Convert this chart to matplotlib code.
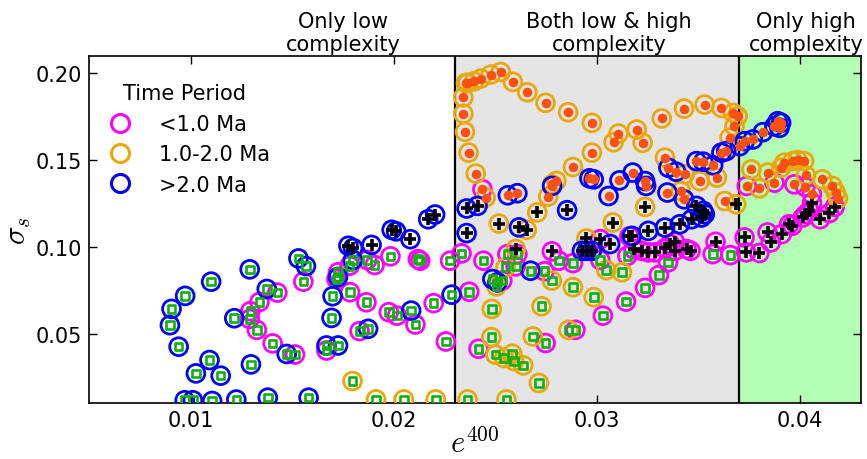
import matplotlib
matplotlib.use("Agg")
import matplotlib.pyplot as plt
from matplotlib.lines import Line2D
import matplotlib.transforms as mtransforms

plt.rcParams['mathtext.fontset'] = 'cm'
plt.rcParams['font.family'] = 'DejaVu Sans'

# ---- data: (e400, sigma_s) per time period, split by complexity class ----
# L = only low complexity (green square), B = both (black plus), H = only high (red dot)
young_L_x = [0.01426, 0.01338, 0.01293, 0.0129, 0.01325, 0.01403, 0.01554, 0.01782, 0.01869, 0.01905,
             0.01983, 0.02118, 0.0213, 0.02277, 0.01725, 0.01717, 0.01784, 0.01865, 0.01975, 0.02015,
             0.02106, 0.02196, 0.02256, 0.01831, 0.01668, 0.01513, 0.02333, 0.02441, 0.02559, 0.02608,
             0.026, 0.02742, 0.02812, 0.02882, 0.02534, 0.02371, 0.02417, 0.02747, 0.02894, 0.03016,
             0.0315, 0.0335, 0.0357, 0.03657, 0.03305, 0.03237, 0.03143, 0.03029]
young_L_y = [0.0736, 0.0682, 0.0629, 0.0584, 0.0521, 0.0443, 0.0799, 0.0891, 0.0924, 0.0895,
             0.0945, 0.0929, 0.0920, 0.0920, 0.0853, 0.0814, 0.0738, 0.0680, 0.0623, 0.0603,
             0.0552, 0.0675, 0.0454, 0.0514, 0.0402, 0.0379, 0.0962, 0.0920, 0.0958, 0.0958,
             0.0887, 0.0859, 0.0920, 0.0906, 0.0805, 0.0741, 0.0412, 0.0445, 0.0521, 0.0924,
             0.0948, 0.0910, 0.0958, 0.0952, 0.0837, 0.0763, 0.0684, 0.0603]
young_B_x = [0.02778, 0.03016, 0.0316, 0.0318, 0.0322, 0.03253, 0.03286, 0.03335, 0.03384, 0.03441,
             0.03461, 0.0336, 0.03384, 0.03584, 0.04059, 0.04046, 0.04029, 0.04013, 0.04099, 0.04144,
             0.04171, 0.03946, 0.03962, 0.0391, 0.0384, 0.03856, 0.03727, 0.03735, 0.038]
young_B_y = [0.0974, 0.1044, 0.1060, 0.0987, 0.0977, 0.0968, 0.0968, 0.0991, 0.0977, 0.0987,
             0.0977, 0.1016, 0.1029, 0.1029, 0.1255, 0.1207, 0.1188, 0.1169, 0.1159, 0.1194,
             0.1230, 0.1130, 0.1121, 0.1073, 0.1083, 0.1025, 0.1054, 0.0968, 0.0964]
young_H_x = [0.02436, 0.03738, 0.03874, 0.03972, 0.04026, 0.04059]
young_H_y = [0.1332, 0.1351, 0.1370, 0.1360, 0.1345, 0.1303]

mid_L_x = [0.01796, 0.01912, 0.02049, 0.02206, 0.02363, 0.02554, 0.0255, 0.02505, 0.02778, 0.02882,
           0.02482, 0.02727, 0.02984, 0.0248, 0.02684, 0.0286, 0.025, 0.02542, 0.02583, 0.02592,
           0.02637, 0.02714, 0.03046, 0.03123]
mid_L_y = [0.0226, 0.0120, 0.0120, 0.0120, 0.0120, 0.0120, 0.0882, 0.0772, 0.0805, 0.0767,
           0.0642, 0.0657, 0.0709, 0.0479, 0.0483, 0.0521, 0.0378, 0.0359, 0.0383, 0.0341,
           0.0316, 0.0215, 0.0866, 0.0853]
mid_B_x = [0.02517, 0.02706, 0.02654, 0.026, 0.02948, 0.03237, 0.03078, 0.03686]
mid_B_y = [0.1134, 0.1198, 0.1098, 0.0987, 0.1048, 0.1230, 0.1140, 0.1245]
mid_H_x = [0.02355, 0.02363, 0.02395, 0.02428, 0.02477, 0.02526, 0.02586, 0.02657, 0.02747, 0.02858,
           0.02975, 0.02342, 0.02342, 0.0235, 0.02368, 0.02403, 0.02452, 0.02975, 0.02882, 0.0280,
           0.02779, 0.0276, 0.03106, 0.03082, 0.03196, 0.03225, 0.03319, 0.03429, 0.0353, 0.03613,
           0.0367, 0.03693, 0.03677, 0.03653, 0.03335, 0.03506, 0.03591, 0.03629, 0.03432, 0.03413,
           0.0376, 0.03841, 0.03907, 0.03923, 0.03964, 0.03988, 0.0402, 0.04029, 0.0411, 0.04159,
           0.04176, 0.04187, 0.038]
mid_H_y = [0.1945, 0.1945, 0.1954, 0.1970, 0.1993, 0.2008, 0.1951, 0.1891, 0.1830, 0.1776,
           0.1715, 0.1862, 0.1767, 0.1663, 0.1543, 0.1422, 0.1284, 0.1543, 0.1460, 0.1380,
           0.1360, 0.1290, 0.1653, 0.1603, 0.1676, 0.1600, 0.1740, 0.1797, 0.1820, 0.1801,
           0.1772, 0.1753, 0.1695, 0.1629, 0.1514, 0.1379, 0.1399, 0.1264, 0.1418, 0.1322,
           0.1447, 0.1428, 0.1456, 0.1485, 0.1494, 0.1500, 0.1494, 0.1412, 0.1389, 0.1351,
           0.1313, 0.1278, 0.1337]

old_L_x = [0.0129, 0.0110, 0.00972, 0.00905, 0.00897, 0.0094, 0.01214, 0.01374, 0.01092, 0.01025,
           0.01147, 0.01296, 0.0097, 0.0101, 0.01105, 0.01224, 0.01379, 0.01472, 0.0153, 0.01567,
           0.01798, 0.01725, 0.01698, 0.01693, 0.02085, 0.01873, 0.01668, 0.01725, 0.0158, 0.02284,
           0.02673, 0.02485, 0.0251]
old_L_y = [0.0870, 0.0799, 0.0717, 0.0642, 0.0548, 0.0424, 0.0588, 0.0757, 0.0347, 0.0270,
           0.0257, 0.0322, 0.0115, 0.0115, 0.0111, 0.0119, 0.0130, 0.0382, 0.0933, 0.0889,
           0.0924, 0.0826, 0.0715, 0.0590, 0.0632, 0.0527, 0.0431, 0.0431, 0.0130, 0.0724,
           0.0862, 0.0814, 0.0795]
old_B_x = [0.01776, 0.01799, 0.0189, 0.01989, 0.02011, 0.02081, 0.02169, 0.02203, 0.02358, 0.02412,
           0.02358, 0.02853, 0.02616, 0.0295, 0.02926, 0.02975, 0.0349, 0.03523, 0.03515, 0.03531,
           0.03466, 0.03408, 0.03335, 0.03253, 0.03172, 0.03065]
old_B_y = [0.1006, 0.0993, 0.1011, 0.1098, 0.1089, 0.1044, 0.1159, 0.1186, 0.1221, 0.1236,
           0.1079, 0.1211, 0.1112, 0.0977, 0.0977, 0.0977, 0.1236, 0.1207, 0.1169, 0.1188,
           0.1159, 0.1130, 0.1111, 0.1092, 0.1063, 0.1016]
old_H_x = [0.02779, 0.02561, 0.02608, 0.02963, 0.02984, 0.03057, 0.03111, 0.03176, 0.03237, 0.03242,
           0.03347, 0.03352, 0.0339, 0.03429, 0.0349, 0.03523, 0.03572, 0.03613, 0.03637, 0.03703,
           0.03728, 0.03768, 0.03817, 0.03874, 0.03899, 0.0389, 0.03907]
old_H_y = [0.1351, 0.1297, 0.1309, 0.1395, 0.1389, 0.1293, 0.1383, 0.1428, 0.1379, 0.1351,
           0.1313, 0.1456, 0.1433, 0.1274, 0.1494, 0.1491, 0.1470, 0.1543, 0.1552, 0.1580,
           0.1609, 0.1619, 0.1661, 0.1695, 0.1686, 0.1724, 0.1715]

periods = ['<1.0 Ma', '1.0-2.0 Ma', '>2.0 Ma']
period_colors = ['#ff00ff', '#e8a80c', '#0000ff']

# region boundaries
low_edge = 0.023
high_edge = 0.037

fig = plt.figure(figsize=(8.67, 4.6), dpi=100)
ax = fig.add_axes([0.103, 0.122, 0.890, 0.754])

ax.axvspan(low_edge, high_edge, color='#e5e5e5', zorder=0, lw=0)
ax.axvspan(high_edge, 0.043, color='#b3ffb3', zorder=0, lw=0)
ax.axvline(low_edge, color='black', lw=1.6, zorder=1)
ax.axvline(high_edge, color='black', lw=1.6, zorder=1)

groups = [
    (young_L_x, young_L_y, young_B_x, young_B_y, young_H_x, young_H_y),
    (mid_L_x, mid_L_y, mid_B_x, mid_B_y, mid_H_x, mid_H_y),
    (old_L_x, old_L_y, old_B_x, old_B_y, old_H_x, old_H_y),
]

# outer circles = time period
for g, col in zip(groups, period_colors):
    xs = g[0] + g[2] + g[4]
    ys = g[1] + g[3] + g[5]
    ax.scatter(xs, ys, s=165, facecolors='none', edgecolors=col, linewidths=2.0, zorder=3)

# inner markers = complexity class
for g in groups:
    ax.scatter(g[0], g[1], s=30, marker='s', facecolors='none', edgecolors='#10b010',
               linewidths=1.9, zorder=4)
    ax.scatter(g[2], g[3], s=80, marker='+', color='black', linewidths=2.6, zorder=4)
    ax.scatter(g[4], g[5], s=48, marker='o', color='#ff5010', linewidths=0, zorder=4)

ax.set_xlim(0.005, 0.043)
ax.set_ylim(0.01, 0.21)
ax.set_xticks([0.01, 0.02, 0.03, 0.04])
ax.set_xticklabels(['0.01', '0.02', '0.03', '0.04'])
ax.set_yticks([0.05, 0.10, 0.15, 0.20])
ax.set_yticklabels(['0.05', '0.10', '0.15', '0.20'])
ax.tick_params(direction='in', top=True, right=True, length=6, width=1, labelsize=15, pad=5)
for sp in ax.spines.values():
    sp.set_linewidth(1.2)

ax.set_xlabel(r'$e^{400}$', fontsize=22, labelpad=-2)
ax.set_ylabel(r'$\sigma_s$', fontsize=22, labelpad=2)

trans = mtransforms.blended_transform_factory(ax.transData, ax.transAxes)
ax.text(0.0175, 1.005, 'Only low\ncomplexity', transform=trans, ha='center', va='bottom',
        fontsize=15, multialignment='center')
ax.text(0.0306, 1.005, 'Both low & high\ncomplexity', transform=trans, ha='center', va='bottom',
        fontsize=15, multialignment='center')
ax.text(0.0403, 1.005, 'Only high\ncomplexity', transform=trans, ha='center', va='bottom',
        fontsize=15, multialignment='center', clip_on=False)

handles = [Line2D([], [], marker='o', ls='none', ms=13, mfc='none', mec=c, mew=2.2) for c in period_colors]
ax.legend(handles, periods, title='Time Period', loc='upper left', frameon=False,
          fontsize=15, title_fontsize=15, handletextpad=0.9, labelspacing=0.5,
          bbox_to_anchor=(-0.012, 0.975))

fig.savefig('out.png', dpi=100)
